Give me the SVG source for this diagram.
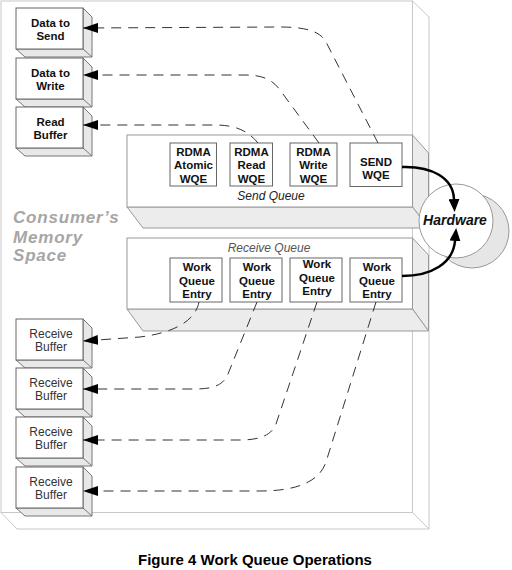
<svg xmlns="http://www.w3.org/2000/svg" width="512" height="570" viewBox="0 0 512 570">
<style>
.outer{fill:#fff;stroke:#c8c8c8;stroke-width:1}
.front{fill:#fff;stroke:#666;stroke-width:1}
.side{fill:#e8e8e8;stroke:#777;stroke-width:1;stroke-linejoin:round}
.qfront{fill:#fff;stroke:#999;stroke-width:1}
.qside{fill:#ececec;stroke:#999;stroke-width:1}
.wqe{fill:#fff;stroke:#666;stroke-width:1}
.bt{font-family:"Liberation Sans",Arial,sans-serif;font-weight:bold;font-size:11.5px;fill:#111;text-anchor:middle}
.rt{font-family:"Liberation Sans",Arial,sans-serif;font-size:12px;fill:#333;text-anchor:middle}
.ql{font-family:"Liberation Sans",Arial,sans-serif;font-style:italic;font-size:12px;text-anchor:middle}
.dash{fill:none;stroke:#333;stroke-width:1;stroke-dasharray:10 7}
.thick{fill:none;stroke:#000;stroke-width:2.5}
.mem{font-family:"Liberation Sans",Arial,sans-serif;font-weight:bold;font-style:italic;font-size:17px;letter-spacing:0.8px;fill:#a6a6a6}
</style>
<defs>
<marker id="ah" markerUnits="userSpaceOnUse" markerWidth="15" markerHeight="10" refX="15" refY="5" orient="auto">
<path d="M0,0 L15,5 L0,10 z" fill="#000"/>
</marker>
<marker id="bh" markerUnits="userSpaceOnUse" markerWidth="13" markerHeight="11" refX="0" refY="5.5" orient="auto">
<path d="M0,0 L13,5.5 L0,11 z" fill="#000"/>
</marker>
</defs>

<g id="memory-space">
<polygon class="outer" points="412.5,1 429,17 429,529 412.5,512.5"/>
<polygon class="outer" points="1,512.5 412.5,512.5 429,529 17,529"/>
<rect class="outer" x="1" y="1" width="411.5" height="511.5"/>
<text class="mem" x="13" y="223">Consumer’s</text>
<text class="mem" x="13" y="242.5">Memory</text>
<text class="mem" x="13" y="261">Space</text>
</g>

<g id="data-to-send">
<polygon class="side" points="83,8 92,17 92,57 25,57 16,49 83,49"/>
<line x1="83" y1="49" x2="92" y2="57" stroke="#777"/>
<rect class="front" x="16" y="8" width="67" height="41"/>
<text class="bt" x="50.5" y="27">Data to</text>
<text class="bt" x="50.5" y="40">Send</text>
</g>
<g id="data-to-write">
<polygon class="side" points="83,58 92,67 92,107 25,107 16,99 83,99"/>
<line x1="83" y1="99" x2="92" y2="107" stroke="#777"/>
<rect class="front" x="16" y="58" width="67" height="41"/>
<text class="bt" x="50.5" y="77">Data to</text>
<text class="bt" x="50.5" y="90">Write</text>
</g>
<g id="read-buffer">
<polygon class="side" points="83,107 92,116 92,156 25,156 16,148 83,148"/>
<line x1="83" y1="148" x2="92" y2="156" stroke="#777"/>
<rect class="front" x="16" y="107" width="67" height="41"/>
<text class="bt" x="50.5" y="126">Read</text>
<text class="bt" x="50.5" y="139">Buffer</text>
</g>

<g id="receive-buffer-1">
<polygon class="side" points="83,319 92,328 92,368 25,368 16,360 83,360"/>
<line x1="83" y1="360" x2="92" y2="368" stroke="#777"/>
<rect class="front" x="16" y="319" width="67" height="41"/>
<text class="rt" x="51" y="338">Receive</text>
<text class="rt" x="51" y="351">Buffer</text>
</g>
<g id="receive-buffer-2">
<polygon class="side" points="83,368 92,377 92,417 25,417 16,409 83,409"/>
<line x1="83" y1="409" x2="92" y2="417" stroke="#777"/>
<rect class="front" x="16" y="368" width="67" height="41"/>
<text class="rt" x="51" y="387">Receive</text>
<text class="rt" x="51" y="400">Buffer</text>
</g>
<g id="receive-buffer-3">
<polygon class="side" points="83,417 92,426 92,466 25,466 16,458 83,458"/>
<line x1="83" y1="458" x2="92" y2="466" stroke="#777"/>
<rect class="front" x="16" y="417" width="67" height="41"/>
<text class="rt" x="51" y="436">Receive</text>
<text class="rt" x="51" y="449">Buffer</text>
</g>
<g id="receive-buffer-4">
<polygon class="side" points="83,467 92,476 92,516 25,516 16,508 83,508"/>
<line x1="83" y1="508" x2="92" y2="516" stroke="#777"/>
<rect class="front" x="16" y="467" width="67" height="41"/>
<text class="rt" x="51" y="486">Receive</text>
<text class="rt" x="51" y="499">Buffer</text>
</g>

<g id="send-queue">
<polygon class="qside" points="412.5,135 428.5,153 428.5,228 412.5,207"/>
<polygon class="qside" points="127,207 412.5,207 428.5,228 143,228"/>
<rect class="qfront" x="127" y="135" width="285.5" height="72"/>
<text class="ql" x="271" y="200" fill="#222">Send Queue</text>
</g>
<g id="wqe-rdma-atomic">
<rect class="wqe" x="170" y="143" width="46.5" height="43"/>
<text class="bt" x="193.5" y="155.5">RDMA</text>
<text class="bt" x="193.5" y="169">Atomic</text>
<text class="bt" x="193.5" y="182.5">WQE</text>
</g>
<g id="wqe-rdma-read">
<rect class="wqe" x="230" y="143" width="42.5" height="43"/>
<text class="bt" x="251.5" y="155.5">RDMA</text>
<text class="bt" x="251.5" y="169">Read</text>
<text class="bt" x="251.5" y="182.5">WQE</text>
</g>
<g id="wqe-rdma-write">
<rect class="wqe" x="290" y="143" width="47" height="43"/>
<text class="bt" x="313.5" y="155.5">RDMA</text>
<text class="bt" x="313.5" y="169">Write</text>
<text class="bt" x="313.5" y="182.5">WQE</text>
</g>
<g id="wqe-send">
<rect class="wqe" x="350" y="143" width="52" height="43.5"/>
<text class="bt" x="376" y="166">SEND</text>
<text class="bt" x="376" y="179">WQE</text>
</g>

<g id="receive-queue">
<polygon class="qside" points="412.5,238 428.5,255 428.5,331 412.5,309"/>
<polygon class="qside" points="127,309 412.5,309 428.5,331 143,331"/>
<rect class="qfront" x="127" y="238" width="285.5" height="71"/>
<text class="ql" x="269" y="252" fill="#555">Receive Queue</text>
</g>
<g id="wqe-receive-1">
<rect class="wqe" x="170" y="258" width="52" height="44"/>
<text class="bt" x="197" y="270.5">Work</text>
<text class="bt" x="197" y="284.5">Queue</text>
<text class="bt" x="197" y="297.5">Entry</text>
</g>
<g id="wqe-receive-2">
<rect class="wqe" x="230" y="258" width="52" height="44"/>
<text class="bt" x="257" y="270.5">Work</text>
<text class="bt" x="257" y="284.5">Queue</text>
<text class="bt" x="257" y="297.5">Entry</text>
</g>
<g id="wqe-receive-3">
<rect class="wqe" x="290" y="258" width="52" height="44"/>
<text class="bt" x="317" y="267.5">Work</text>
<text class="bt" x="317" y="281.5">Queue</text>
<text class="bt" x="317" y="294.5">Entry</text>
</g>
<g id="wqe-receive-4">
<rect class="wqe" x="350" y="258" width="52" height="44"/>
<text class="bt" x="377" y="270.5">Work</text>
<text class="bt" x="377" y="284.5">Queue</text>
<text class="bt" x="377" y="297.5">Entry</text>
</g>

<g id="hardware">
<circle cx="472" cy="231" r="37" fill="#e6e6e6" stroke="#999" stroke-width="1"/>
<circle cx="456" cy="221" r="37" fill="#fff" stroke="#999" stroke-width="1"/>
<text x="455" y="225" font-family="Liberation Sans, Arial, sans-serif" font-weight="bold" font-style="italic" font-size="14" fill="#111" text-anchor="middle">Hardware</text>
</g>

<g id="connectors">
<path class="dash" marker-end="url(#ah)" d="M378,143 L326,42 C320,31 305,27 280,27 L83,28"/>
<path class="dash" marker-end="url(#ah)" d="M319,143 L280,90 C272,79 262,75 245,75 L83,75"/>
<path class="dash" marker-end="url(#ah)" d="M258,143 C248,131 236,125 215,125 L83,125"/>
<path class="dash" marker-end="url(#ah)" d="M199,302 C195,322 172,333 140,337 L83,341"/>
<path class="dash" marker-end="url(#ah)" d="M257,302 L228,374 C224,384 215,389 195,389 L83,389"/>
<path class="dash" marker-end="url(#ah)" d="M317,302 L276,424 C272,434 262,440 240,440 L83,440"/>
<path class="dash" marker-end="url(#ah)" d="M376,302 L326,462 C320,480 300,491 260,491 L83,491"/>
<path class="thick" marker-end="url(#bh)" d="M402,167 C432,166 453,178 454,199"/>
<path class="thick" marker-end="url(#bh)" d="M402,276 C432,276 453,263 455,241"/>
</g>

<text x="255" y="565" font-family="Liberation Sans, Arial, sans-serif" font-weight="bold" font-size="15" fill="#000" text-anchor="middle">Figure 4 Work Queue Operations</text>
</svg>
